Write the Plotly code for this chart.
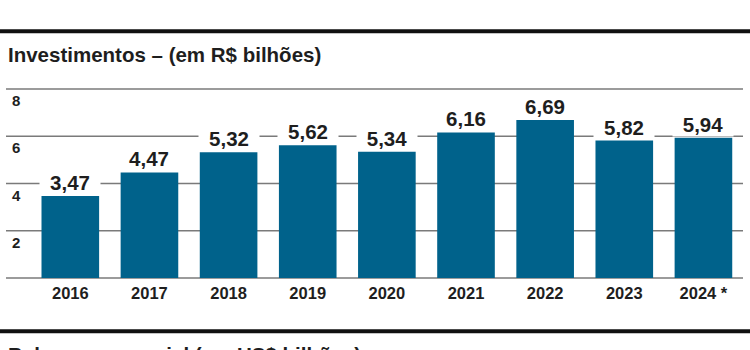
import plotly.graph_objects as go

years = ["2016", "2017", "2018", "2019", "2020", "2021", "2022", "2023", "2024 *"]
values = [3.47, 4.47, 5.32, 5.62, 5.34, 6.16, 6.69, 5.82, 5.94]
value_labels = ["3,47", "4,47", "5,32", "5,62", "5,34", "6,16", "6,69", "5,82", "5,94"]
grid_values = [0, 2, 4, 6, 8]
y_ticks = [2, 4, 6, 8]
y_max = 8
title = "Investimentos – (em R$ bilhões)"
next_title = "Balanço comercial (em US$ bilhões)"

FONT = "Liberation Sans"
BAR = "#00628b"
GRID = "#7a7a7a"
TXT = "#1e1e1e"

H, W = 350, 750
ml, mr, mt, mb = 7, 7, 89, 72
pw, ph = W - ml - mr, H - mt - mb


def px_x(x):
    return (x - ml) / pw


def px_y(y):
    return (H - mb - y) / ph


fig = go.Figure()
fig.add_trace(go.Bar(x=list(range(len(years))), y=values, marker=dict(color=BAR, line=dict(width=0)),
                     width=0.728, hoverinfo="skip"))

for g in grid_values:
    fig.add_shape(type="line", xref="paper", yref="paper", x0=px_x(6), x1=px_x(743),
                  y0=g / y_max, y1=g / y_max, layer="below", line=dict(color=GRID, width=1.5))

for i, (v, t) in enumerate(zip(values, value_labels)):
    fig.add_annotation(x=i, y=v, xref="x", yref="y", text=f"<b>{t}</b>", showarrow=False,
                       yanchor="bottom", xanchor="center", yshift=1, bgcolor="white", width=60,
                       borderpad=0, font=dict(family=FONT, size=20.5, color=TXT))
for t in y_ticks:
    fig.add_annotation(x=px_x(16), y=t, xref="paper", yref="y", text=f"<b>{t}</b>",
                       showarrow=False, xanchor="center", yanchor="top", yshift=-1,
                       font=dict(family=FONT, size=15, color=TXT))

fig.add_annotation(x=px_x(6), y=px_y(54), xref="paper", yref="paper", text=f"<b>{title}</b>",
                   showarrow=False, xanchor="left", yanchor="middle",
                   font=dict(family=FONT, size=20.5, color=TXT))
fig.add_annotation(x=px_x(6), y=px_y(341), xref="paper", yref="paper", text=f"<b>{next_title}</b>",
                   showarrow=False, xanchor="left", yanchor="top",
                   font=dict(family=FONT, size=20.5, color=TXT))
for yy in (31.3, 331.3):
    fig.add_shape(type="line", xref="paper", yref="paper", x0=px_x(0), x1=px_x(750),
                  y0=px_y(yy), y1=px_y(yy), line=dict(color="#111111", width=4))

fig.update_layout(
    width=W, height=H, margin=dict(l=ml, r=mr, t=mt, b=mb),
    paper_bgcolor="white", plot_bgcolor="white", showlegend=False, bargap=0.27,
    xaxis=dict(range=[-0.8, 8.5], tickmode="array", tickvals=list(range(len(years))),
               ticktext=[f"<b>{y}</b>" for y in years], showgrid=False, zeroline=False,
               showline=False, ticks="", tickfont=dict(family=FONT, size=16.5, color=TXT),
               ticklabelstandoff=3, fixedrange=True),
    yaxis=dict(range=[0, y_max], showticklabels=False, showgrid=False, zeroline=False,
               showline=False, fixedrange=True),
)
fig.write_html("out.html", config={"displayModeBar": False})
